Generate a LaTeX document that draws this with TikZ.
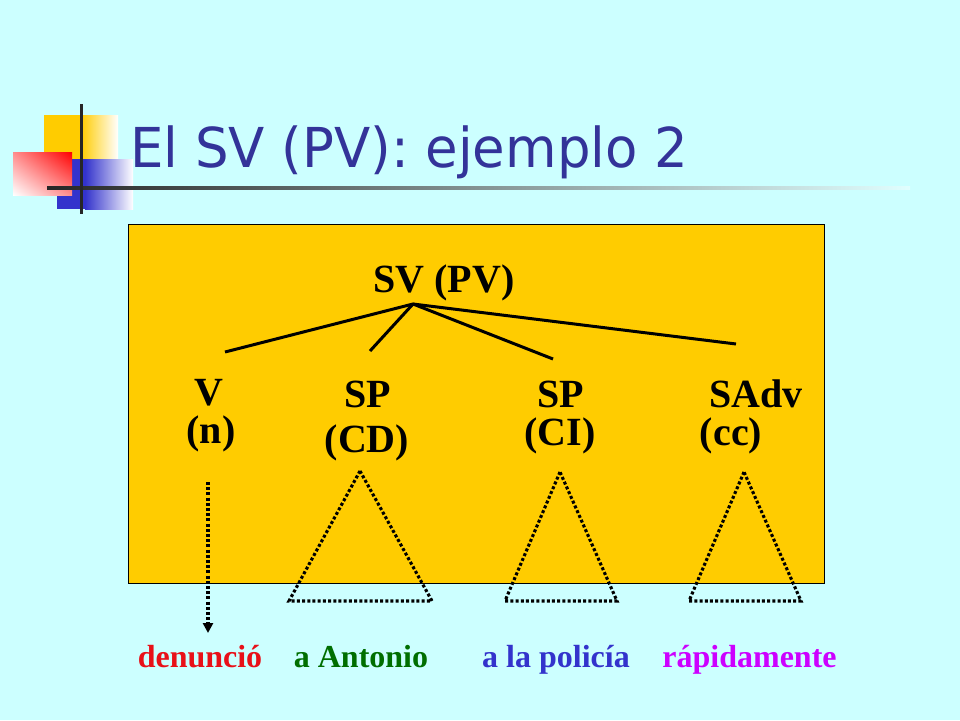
\documentclass[tikz,border=0pt]{standalone}
\usepackage{fontspec}
\setmainfont{Liberation Serif}
\newfontfamily\titlefont{DejaVu Sans}
\usetikzlibrary{arrows.meta,shadings}
\definecolor{bgcyan}{RGB}{204,255,255}
\definecolor{boxorange}{RGB}{255,204,0}
\definecolor{titleblue}{RGB}{51,51,153}
\definecolor{sqblue}{RGB}{51,51,204}
\definecolor{wred}{RGB}{232,16,24}
\definecolor{wgreen}{RGB}{0,110,0}
\definecolor{wblue}{RGB}{51,51,204}
\definecolor{wmag}{RGB}{204,0,255}
\begin{document}
\begin{tikzpicture}[x=1pt,y=-1pt,
  lab/.style={font=\fontsize{40}{40}\selectfont\bfseries, inner sep=0pt, anchor=base},
  word/.style={font=\fontsize{32}{32}\selectfont\bfseries, inner sep=0pt, anchor=base},
  tri/.style={line width=3.1pt, dash pattern=on 3pt off 2.2pt, line join=miter},
  branch/.style={line width=3pt}]
\useasboundingbox (0,0) rectangle (960,720);
\fill[bgcyan] (0,0) rectangle (960,720);
% decorative squares
\fill[boxorange] (44,115) rectangle (81,160);
\shade[left color=boxorange, right color=white] (81,115) rectangle (118,160);
\fill[sqblue] (57,159) rectangle (85,209);
\shade[left color=sqblue, right color=white] (85,159) rectangle (133,209);
\shade[upper right=red, lower left=white, upper left=red!45!white, lower right=red!45!white] (13,152) rectangle (72,195);
\shade[left color=black!85, right color=bgcyan!60!white] (47,186.5) rectangle (910,189.5);
\draw[line width=3pt, black!85] (81,104) -- (81,214);
% title
\node[font=\titlefont\fontsize{55}{55}\selectfont, text=titleblue, anchor=base west, inner sep=0pt, xscale=0.962] (title) at (130,167) {El SV (PV): ejemplo 2};
% box
\node[draw=black, line width=1.2pt, fill=boxorange, minimum width=696pt, minimum height=359pt, inner sep=0pt, anchor=north west] (box) at (128,224) {};
% tree
\node[lab] (sv) at (444,292) {SV (PV)};
\coordinate (apex) at (413,304);
\coordinate (eV) at (225,352);
\coordinate (eCD) at (370,351);
\coordinate (eCI) at (553,359);
\coordinate (eAdv) at (736,344);
\draw[branch] (eV) -- (apex) -- (eAdv);
\draw[branch] (apex) -- (eCD);
\draw[branch] (apex) -- (eCI);
\node[lab] (v) at (209,405) {V};
\node[lab] (vn) at (211,443) {(n)};
\node[lab] (sp1) at (368,407) {SP};
\node[lab] (cd) at (367,452) {(CD)};
\node[lab] (sp2) at (561,407) {SP};
\node[lab] (ci) at (560,445) {(CI)};
\node[lab] (sadv) at (756,407) {SAdv};
\node[lab] (cc) at (731,445) {(cc)};
% triangles
\coordinate (t1a) at (360,471); \coordinate (t1l) at (289,601); \coordinate (t1r) at (432,601);
\coordinate (t2a) at (560,472); \coordinate (t2l) at (505,601); \coordinate (t2r) at (617,601);
\coordinate (t3a) at (744,472); \coordinate (t3l) at (689,601); \coordinate (t3r) at (801,601);
\draw[tri] (t1a) -- (t1l) -- (t1r) -- cycle;
\draw[tri] (t2a) -- (t2l) -- (t2r) -- cycle;
\draw[tri] (t3a) -- (t3l) -- (t3r) -- cycle;
% arrow
\coordinate (arrS) at (208,482);
\coordinate (arrE) at (208,633);
\draw[tri, -{Triangle[width=10pt,length=10pt]}] (arrS) -- (arrE);
% words
\node[word, text=wred] (w1) at (200,667) {denunció};
\node[word, text=wgreen] (w2) at (361,667) {a Antonio};
\node[word, text=wblue] (w3) at (556,667) {a la policía};
\node[word, text=wmag] (w4) at (749.5,667) {rápidamente};
\end{tikzpicture}
\end{document}
